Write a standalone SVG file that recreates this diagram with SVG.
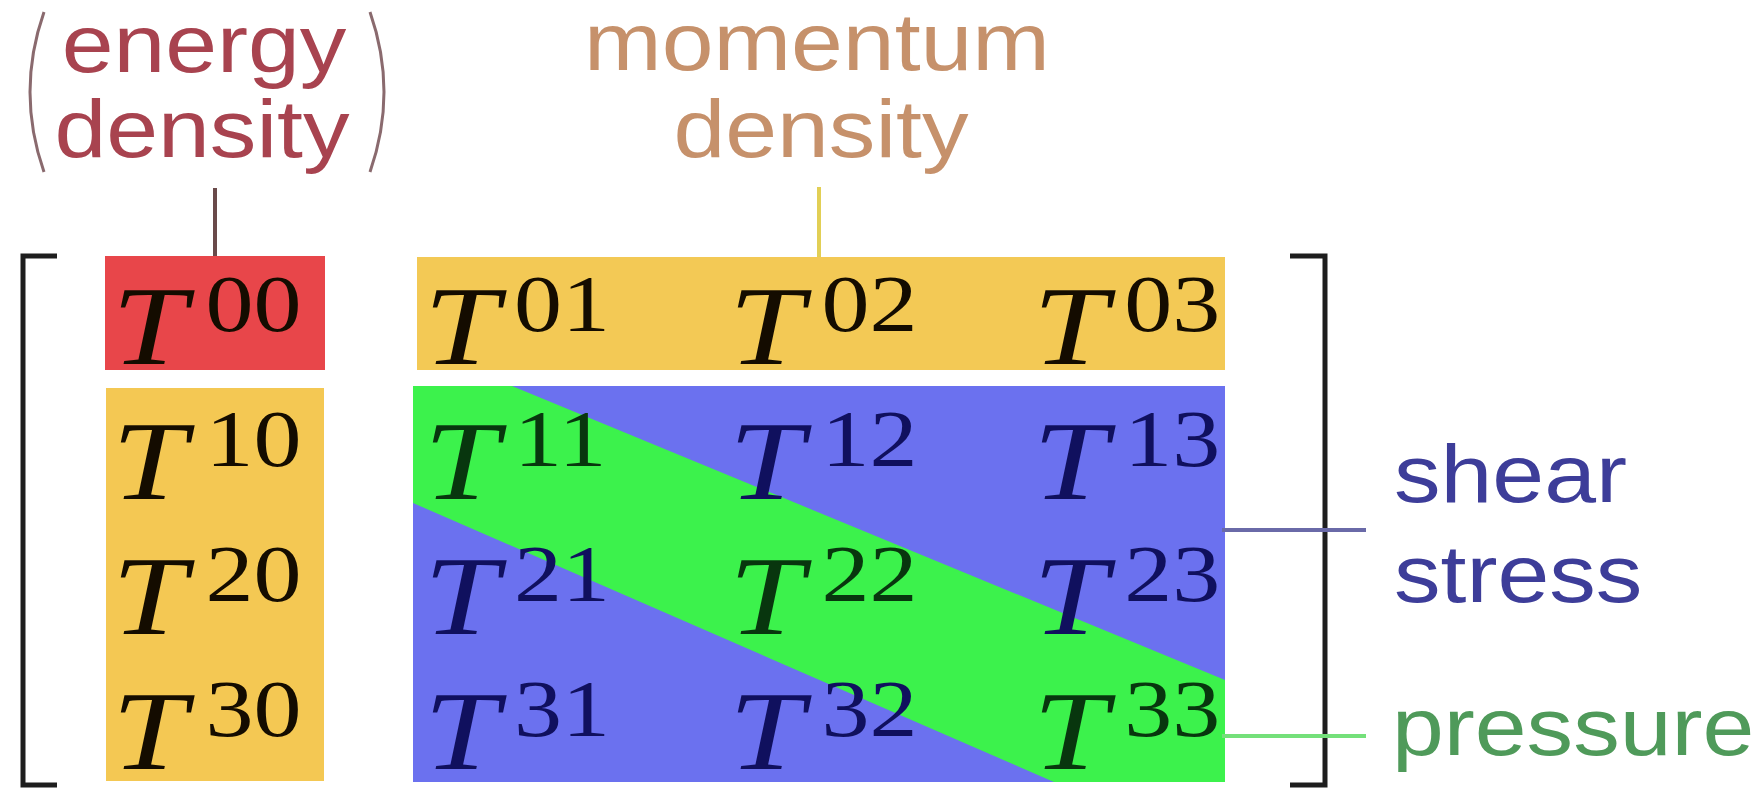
<svg xmlns="http://www.w3.org/2000/svg" width="1759" height="792" viewBox="0 0 1759 792">
<style>
.lbl{font-family:"Liberation Sans",Arial,sans-serif;font-size:81px;text-anchor:middle}
.lblL{font-family:"Liberation Sans",Arial,sans-serif;font-size:81px}
.T{font-family:"Liberation Serif","Times New Roman",serif;font-style:italic;font-size:112px}
.s{font-family:"Liberation Serif","Times New Roman",serif;font-size:80px}
.k{fill:#140c00}
.b{fill:#10105e}
.g{fill:#08360e}
.br{fill:none;stroke:#1e1e1e;stroke-width:5}
.ld{fill:none;stroke-width:4}
</style>
<rect width="1759" height="792" fill="#ffffff"/>

<!-- background blocks -->
<g id="blocks">
  <rect x="105" y="256" width="220" height="114" fill="#e8464a"/>
  <rect x="417" y="257" width="808" height="113" fill="#f3c955"/>
  <rect x="106" y="388" width="218" height="393" fill="#f4c853"/>
  <rect x="413" y="386" width="812" height="396" fill="#6b71ef"/>
  <polygon points="413,386 512,386 1225,680 1225,782 1054,782 413,503" fill="#3cf24c"/>
</g>

<!-- brackets -->
<path class="br" d="M57,256 H23 V785 H57"/>
<path class="br" d="M1290,256 H1325 V785 H1290"/>

<!-- labels -->
<g id="energy-density">
  <path d="M44,12 Q16,92 44,172" fill="none" stroke="#8a6a6e" stroke-width="3"/>
  <path d="M370,12 Q398,92 370,172" fill="none" stroke="#8a6a6e" stroke-width="3"/>
  <text class="lbl" transform="translate(204,72) scale(1.15 1)" fill="#a8434f">energy</text>
  <text class="lbl" transform="translate(202,157) scale(1.15 1)" fill="#a8434f">density</text>
</g>
<g id="momentum-density">
  <text class="lbl" transform="translate(817,70) scale(1.15 1)" fill="#c6916b">momentum</text>
  <text class="lbl" transform="translate(821,157) scale(1.15 1)" fill="#c6916b">density</text>
</g>
<g id="shear-stress">
  <text class="lblL" transform="translate(1394,502) scale(1.15 1)" fill="#3d3d99">shear</text>
  <text class="lblL" transform="translate(1394,602) scale(1.15 1)" fill="#3d3d99">stress</text>
</g>
<g id="pressure">
  <text class="lblL" transform="translate(1392,755) scale(1.15 1)" fill="#4f9a5a">pressure</text>
</g>

<!-- connectors -->
<g id="connectors">
  <line class="ld" x1="215" y1="188" x2="215" y2="256" stroke="#6a4a4a"/>
  <line class="ld" x1="819" y1="187" x2="819" y2="257" stroke="#e2cf55"/>
  <line class="ld" x1="1222" y1="530" x2="1366" y2="530" stroke="#6a6aa8"/>
  <line class="ld" x1="1222" y1="736" x2="1366" y2="736" stroke="#74e07a"/>
</g>

<!-- matrix cells -->
<g id="T00" transform="translate(112,364) scale(1.2 1)"><text class="T k">T</text><text class="s k" x="78" y="-33">00</text></g>
<g id="T01" transform="translate(424,364) scale(1.2 1)"><text class="T k">T</text><text class="s k" x="75" y="-33">01</text></g>
<g id="T02" transform="translate(729,364) scale(1.2 1)"><text class="T k">T</text><text class="s k" x="77" y="-33">02</text></g>
<g id="T03" transform="translate(1033,364) scale(1.2 1)"><text class="T k">T</text><text class="s k" x="76" y="-33">03</text></g>

<g id="T10" transform="translate(112,499) scale(1.2 1)"><text class="T k">T</text><text class="s k" x="78" y="-33">10</text></g>
<g id="T11" transform="translate(424,499) scale(1.2 1)"><text class="T g">T</text><text class="s g" x="75" y="-33">11</text></g>
<g id="T12" transform="translate(729,499) scale(1.2 1)"><text class="T b">T</text><text class="s b" x="77" y="-33">12</text></g>
<g id="T13" transform="translate(1033,499) scale(1.2 1)"><text class="T b">T</text><text class="s b" x="76" y="-33">13</text></g>

<g id="T20" transform="translate(112,634) scale(1.2 1)"><text class="T k">T</text><text class="s k" x="78" y="-33">20</text></g>
<g id="T21" transform="translate(424,634) scale(1.2 1)"><text class="T b">T</text><text class="s b" x="75" y="-33">21</text></g>
<g id="T22" transform="translate(729,634) scale(1.2 1)"><text class="T g">T</text><text class="s g" x="77" y="-33">22</text></g>
<g id="T23" transform="translate(1033,634) scale(1.2 1)"><text class="T b">T</text><text class="s b" x="76" y="-33">23</text></g>

<g id="T30" transform="translate(112,769) scale(1.2 1)"><text class="T k">T</text><text class="s k" x="78" y="-33">30</text></g>
<g id="T31" transform="translate(424,769) scale(1.2 1)"><text class="T b">T</text><text class="s b" x="75" y="-33">31</text></g>
<g id="T32" transform="translate(729,769) scale(1.2 1)"><text class="T b">T</text><text class="s b" x="77" y="-33">32</text></g>
<g id="T33" transform="translate(1033,769) scale(1.2 1)"><text class="T g">T</text><text class="s g" x="76" y="-33">33</text></g>
</svg>
